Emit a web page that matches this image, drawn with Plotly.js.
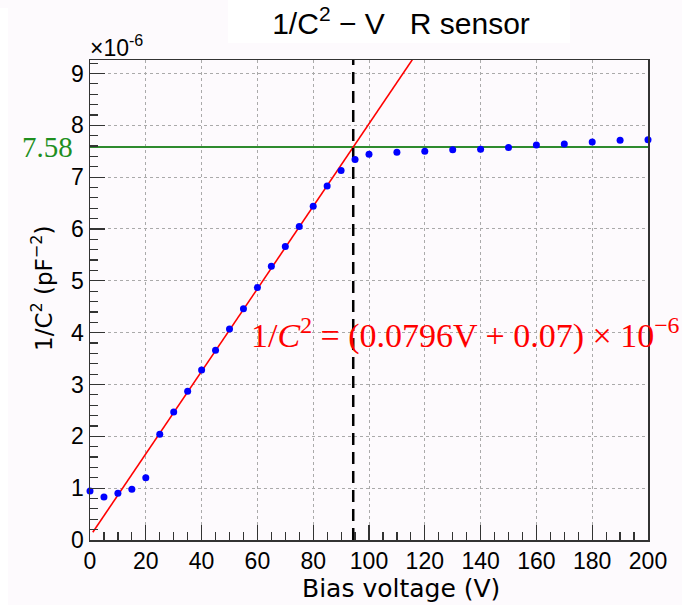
<!DOCTYPE html>
<html>
<head>
<meta charset="utf-8">
<script src="https://cdn.plot.ly/plotly-3.0.1.min.js"></script>
<style>
  html, body { margin: 0; padding: 0; background: #fdfafd; }
  #chart { width: 682px; height: 605px; }
</style>
</head>
<body>
<div id="chart"></div>
<script>
// ---- data ----
const biasVoltage = [0, 5, 10, 15, 20, 25, 30, 35, 40, 45, 50, 55, 60, 65, 70, 75, 80, 85, 90, 95,
                     100, 110, 120, 130, 140, 150, 160, 170, 180, 190, 200];
const invC2 = [0.945, 0.83, 0.90, 0.98, 1.20, 2.04, 2.47, 2.87, 3.28, 3.66, 4.07, 4.46, 4.87, 5.28,
               5.66, 6.05, 6.44, 6.83, 7.13, 7.34,
               7.44, 7.48, 7.50, 7.53, 7.54, 7.57, 7.62, 7.64, 7.68, 7.71, 7.72];
const fitSlope = 0.0796;
const fitIntercept = 0.07;
const fitRangeV = [1, 120];
const plateauValue = 7.58;
const plateauRangeV = [0, 200];
const depletionV = (plateauValue - fitIntercept) / fitSlope;
const yMax = 9.26;
const xTickVals = [0, 20, 40, 60, 80, 100, 120, 140, 160, 180, 200];
const yTickVals = [0, 1, 2, 3, 4, 5, 6, 7, 8, 9];

const fitY = fitRangeV.map(v => fitSlope * v + fitIntercept);

const traces = [
  { x: plateauRangeV, y: [plateauValue, plateauValue], mode: 'lines',
    line: { color: '#2e8b2e', width: 2 }, hoverinfo: 'skip', showlegend: false },
  { x: fitRangeV, y: fitY, mode: 'lines',
    line: { color: '#ff0000', width: 1.6 }, hoverinfo: 'skip', showlegend: false },
  { x: [depletionV, depletionV], y: [0, yMax], mode: 'lines',
    line: { color: '#000000', width: 2.5, dash: '12px,7px' }, hoverinfo: 'skip', showlegend: false },
  { x: biasVoltage, y: invC2, mode: 'markers', cliponaxis: false,
    marker: { color: '#0000ff', size: 7 }, showlegend: false }
];

const L = 90, R = 34, T = 60, B = 65;
const W = 682, H = 605;
const pw = W - L - R, ph = H - T - B;
const px = x => (x - L) / pw;          // pixel -> paper x
const py = y => (H - B - y) / ph;      // pixel -> paper y

const axisCommon = {
  showline: true, mirror: true, linecolor: '#333333', linewidth: 1.5,
  ticks: 'inside', ticklen: 15, tickwidth: 1.2, tickcolor: '#333333',
  showgrid: true, gridcolor: '#aaaaaa', gridwidth: 1, griddash: 'dot',
  zeroline: false, fixedrange: true,
  tickfont: { family: 'Liberation Sans, Arial, sans-serif', size: 23, color: '#000' }
};

const layout = {
  width: W, height: H,
  margin: { l: L, r: R, t: T, b: B },
  paper_bgcolor: '#fdfafd',
  plot_bgcolor: '#fdfafd',
  title: {
    text: '1/C<sup>2</sup> \u2212 V\u00a0\u00a0\u00a0R sensor',
    font: { family: 'Liberation Sans, Arial, sans-serif', size: 30, color: '#000' },
    x: px(401), xref: 'paper', xanchor: 'center',
    y: 1 - 23 / H, yref: 'container', yanchor: 'middle'
  },
  xaxis: Object.assign({}, axisCommon, {
    range: [0, 200], tickvals: xTickVals, ticktext: xTickVals.map(String),
    minor: { dtick: 5, ticks: 'inside', ticklen: 8, tickcolor: '#333333', tickwidth: 1.2, showgrid: false }
  }),
  yaxis: Object.assign({}, axisCommon, {
    range: [0, yMax], tickvals: yTickVals, ticktext: yTickVals.map(String),
    minor: { dtick: 0.2, ticks: 'inside', ticklen: 8, tickcolor: '#333333', tickwidth: 1.2, showgrid: false }
  }),
  shapes: [
    { type: 'rect', xref: 'paper', yref: 'paper', layer: 'below',
      x0: px(228), x1: px(570), y0: py(43), y1: py(0),
      fillcolor: '#ffffff', line: { width: 0 } },
    { type: 'rect', xref: 'paper', yref: 'paper', layer: 'below',
      x0: px(0), x1: px(8), y0: py(605), y1: py(8),
      fillcolor: '#ffffff', line: { width: 0 } }
  ],
  annotations: [
    { text: 'Bias voltage (V)', xref: 'paper', yref: 'paper', x: px(401), y: py(588),
      xanchor: 'center', yanchor: 'middle', showarrow: false,
      font: { family: 'DejaVu Sans, sans-serif', size: 25, color: '#000' } },
    { text: '1/C<sup>2</sup> (pF<sup>\u22122</sup>)', xref: 'paper', yref: 'paper',
      x: px(42), y: py(288), textangle: -90,
      xanchor: 'center', yanchor: 'middle', showarrow: false,
      font: { family: 'DejaVu Sans, sans-serif', size: 23, color: '#000' } },
    { text: '\u00d710<sup>-6</sup>', xref: 'paper', yref: 'paper', x: px(88), y: py(46),
      xanchor: 'left', yanchor: 'middle', showarrow: false,
      font: { family: 'Liberation Sans, Arial, sans-serif', size: 23, color: '#000' } },
    { text: String(plateauValue), xref: 'paper', yref: 'y', x: px(75), y: plateauValue,
      xanchor: 'right', yanchor: 'middle', showarrow: false,
      font: { family: 'Liberation Serif, Times New Roman, serif', size: 29, color: '#1f8f1f' } },
    { text: '1/<i>C</i><sup>2</sup> = (0.0796V + 0.07) \u00d7 10<sup>\u22126</sup>',
      xref: 'paper', yref: 'paper', x: px(249), y: py(333),
      xanchor: 'left', yanchor: 'middle', showarrow: false,
      font: { family: 'Liberation Serif, Times New Roman, serif', size: 34, color: '#ff0000' } }
  ]
};

Plotly.newPlot('chart', traces, layout, { displayModeBar: false, staticPlot: true });
</script>
</body>
</html>
